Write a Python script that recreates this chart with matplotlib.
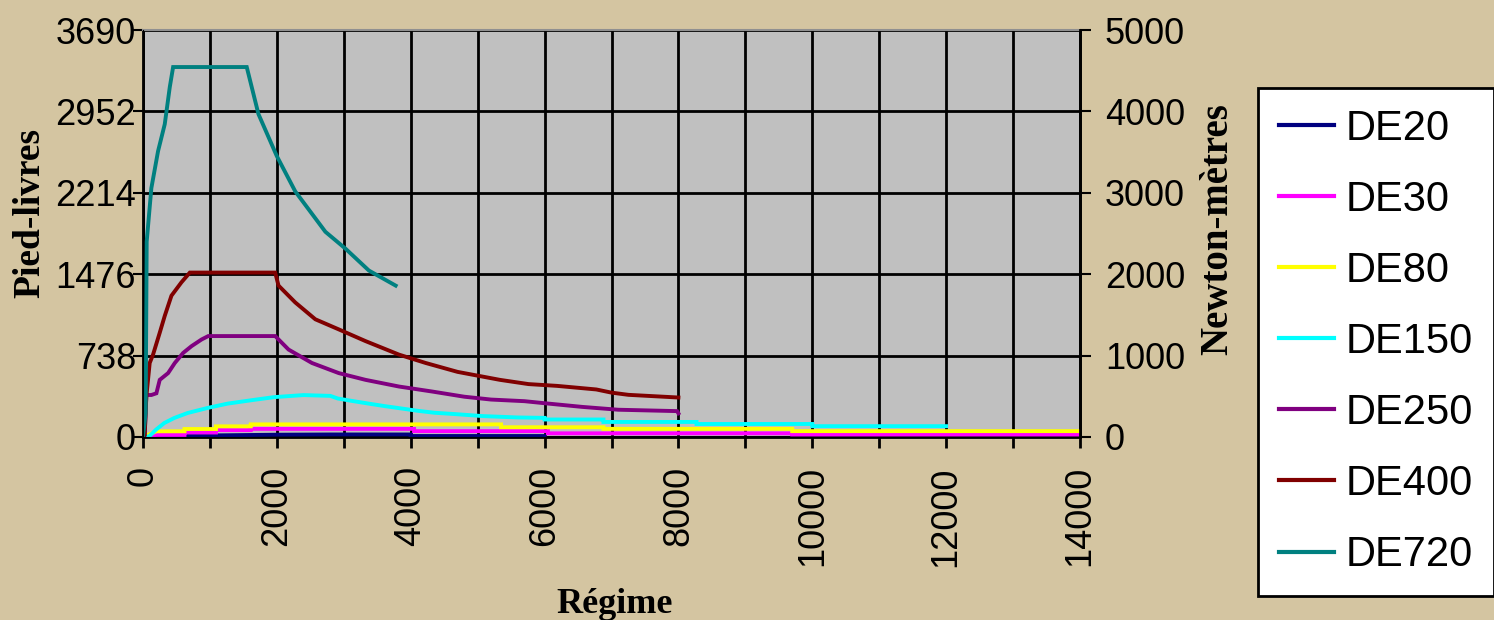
import matplotlib
matplotlib.use("Agg")
import matplotlib.pyplot as plt
from matplotlib.ticker import FixedLocator, MultipleLocator

# ---- data (rpm, Newton-metres) ----
series_names = ["DE20", "DE30", "DE80", "DE150", "DE250", "DE400", "DE720"]
series_colors = ["#000080", "#FF00FF", "#FFFF00", "#00FFFF", "#800080", "#800000", "#008080"]

de20_rpm = [0, 300, 700, 1100, 2000, 2800, 4000, 4000, 6000]
de20_nm = [0, 8, 15, 20, 28, 31, 31, 12, 12]

de30_rpm = [0, 200, 620, 620, 1090, 1090, 1610, 1610, 4050, 4050, 6050, 6050, 9700, 9700, 14000]
de30_nm = [0, 25, 25, 55, 55, 85, 85, 100, 100, 72, 72, 45, 45, 30, 30]

de80_rpm = [0, 100, 200, 620, 620, 1090, 1090, 1610, 1610, 5350, 5350, 6880, 6880, 9700, 9700, 14000]
de80_nm = [0, 35, 70, 70, 98, 98, 131, 131, 155, 155, 120, 120, 100, 100, 72, 72]

de150_rpm = [0, 94, 194, 318, 468, 667, 965, 1264, 1612, 1960, 2400, 2800, 2910, 3109, 3358,
             3607, 3856, 4104, 4353, 4652, 5075, 5600, 6000, 6000, 6880, 6880, 8270, 8270,
             10000, 10000, 12000]
de150_nm = [0, 8, 90, 172, 234, 295, 357, 410, 451, 490, 515, 505, 473, 445, 412,
            380, 351, 322, 298, 282, 257, 240, 235, 215, 215, 185, 185, 160,
            160, 133, 133]

de250_rpm = [0, 25, 50, 125, 200, 250, 375, 475, 600, 725, 875, 975, 1975, 2175, 2525,
             2925, 3325, 3825, 4325, 4800, 5200, 5700, 6000, 6560, 7100, 7980, 8000]
de250_nm = [0, 21, 516, 516, 537, 702, 785, 909, 1033, 1116, 1198, 1240, 1240, 1074, 909,
            785, 702, 620, 558, 495, 460, 440, 415, 370, 335, 318, 290]

de400_rpm = [0, 25, 50, 100, 150, 250, 325, 425, 575, 700, 1975, 2025, 2275, 2575, 2925,
             3325, 3825, 4225, 4700, 5333, 5760, 6187, 6773, 7000, 7253, 8000]
de400_nm = [0, 21, 496, 909, 1012, 1281, 1488, 1736, 1901, 2020, 2020, 1860, 1653, 1446, 1322,
            1178, 1012, 909, 800, 702, 650, 628, 584, 545, 518, 485]

de720_rpm = [0, 40, 55, 125, 225, 325, 400, 450, 1550, 1725, 2000, 2275, 2725, 3025, 3375, 3775]
de720_nm = [0, 300, 2400, 3058, 3512, 3843, 4298, 4545, 4545, 3967, 3450, 3017, 2521, 2314, 2045, 1860]

series_rpm = [de20_rpm, de30_rpm, de80_rpm, de150_rpm, de250_rpm, de400_rpm, de720_rpm]
series_nm = [de20_nm, de30_nm, de80_nm, de150_nm, de250_nm, de400_nm, de720_nm]

left_ticks = [0, 738, 1476, 2214, 2952, 3690]
right_ticks = [0, 1000, 2000, 3000, 4000, 5000]
x_major = [0, 2000, 4000, 6000, 8000, 10000, 12000, 14000]

# ---- figure ----
BG = "#D4C5A1"
fig = plt.figure(figsize=(14.94, 6.2), dpi=100, facecolor=BG)
ax = fig.add_axes([143 / 1494, 1 - 437 / 620, (1080 - 143) / 1494, (437 - 30) / 620])
ax.set_facecolor("#C0C0C0")
ax.set_xlim(0, 14000)
ax.set_ylim(0, 3690)

tick_font = {"family": "Liberation Sans", "size": 26}
ax.yaxis.set_major_locator(FixedLocator(left_ticks))
ax.set_yticklabels([str(t) for t in left_ticks], fontdict=tick_font)
ax.xaxis.set_major_locator(FixedLocator(x_major))
ax.xaxis.set_minor_locator(MultipleLocator(1000))
ax.set_xticklabels([str(t) for t in x_major], fontdict=tick_font, rotation=90, va="top", ha="center")
ax.tick_params(axis="y", direction="out", length=7, width=1.5, pad=-2, colors="black")
ax.tick_params(axis="x", which="both", direction="out", length=8, width=2, pad=13)
ax.grid(True, which="both", axis="x", color="black", lw=2)
ax.grid(True, which="major", axis="y", color="black", lw=2)
ax.set_axisbelow(True)

for s in ["left", "bottom", "right"]:
    ax.spines[s].set_color("black")
    ax.spines[s].set_linewidth(2)
ax.spines["top"].set_color("#909090")
ax.spines["top"].set_linewidth(1.5)

ax.set_ylabel("Pied-livres", fontfamily="Liberation Serif", fontweight="bold", fontsize=27)
ax.yaxis.set_label_coords(-0.102, 0.55)
ax.set_xlabel("Régime", fontfamily="Liberation Serif", fontweight="bold", fontsize=26)
ax.xaxis.set_label_coords(0.503, -0.372)

ax2 = ax.twinx()
ax2.set_ylim(0, 5000)
ax2.yaxis.set_major_locator(FixedLocator(right_ticks))
ax2.set_yticklabels([str(t) for t in right_ticks], fontdict=tick_font)
ax2.tick_params(axis="y", direction="out", length=8, width=1.5, pad=10)
ax2.spines["right"].set_linewidth(2)
ax2.spines["top"].set_visible(False)
ax2.set_ylabel("Newton-mètres", fontfamily="Liberation Serif", fontweight="bold", fontsize=28,
               rotation=90)
ax2.yaxis.set_label_coords(1.127, 0.51)

lines = []
for name, col, xs, ys in zip(series_names, series_colors, series_rpm, series_nm):
    ln, = ax2.plot(xs, ys, color=col, lw=2.8, label=name, solid_joinstyle="miter")
    lines.append(ln)

leg = fig.legend(handles=lines, labels=series_names, loc="upper left",
                 bbox_to_anchor=(1258 / 1494, 1 - 88 / 620),
                 prop={"family": "Liberation Sans", "size": 30},
                 frameon=True, fancybox=False, edgecolor="black", facecolor="white",
                 framealpha=1, handlelength=1.32, handletextpad=0.29, labelspacing=0.745,
                 borderpad=0.5, borderaxespad=0)
leg.get_frame().set_linewidth(2)
for h in leg.legend_handles:
    h.set_linewidth(3)

fig.savefig("out.png", dpi=100, facecolor=BG)
